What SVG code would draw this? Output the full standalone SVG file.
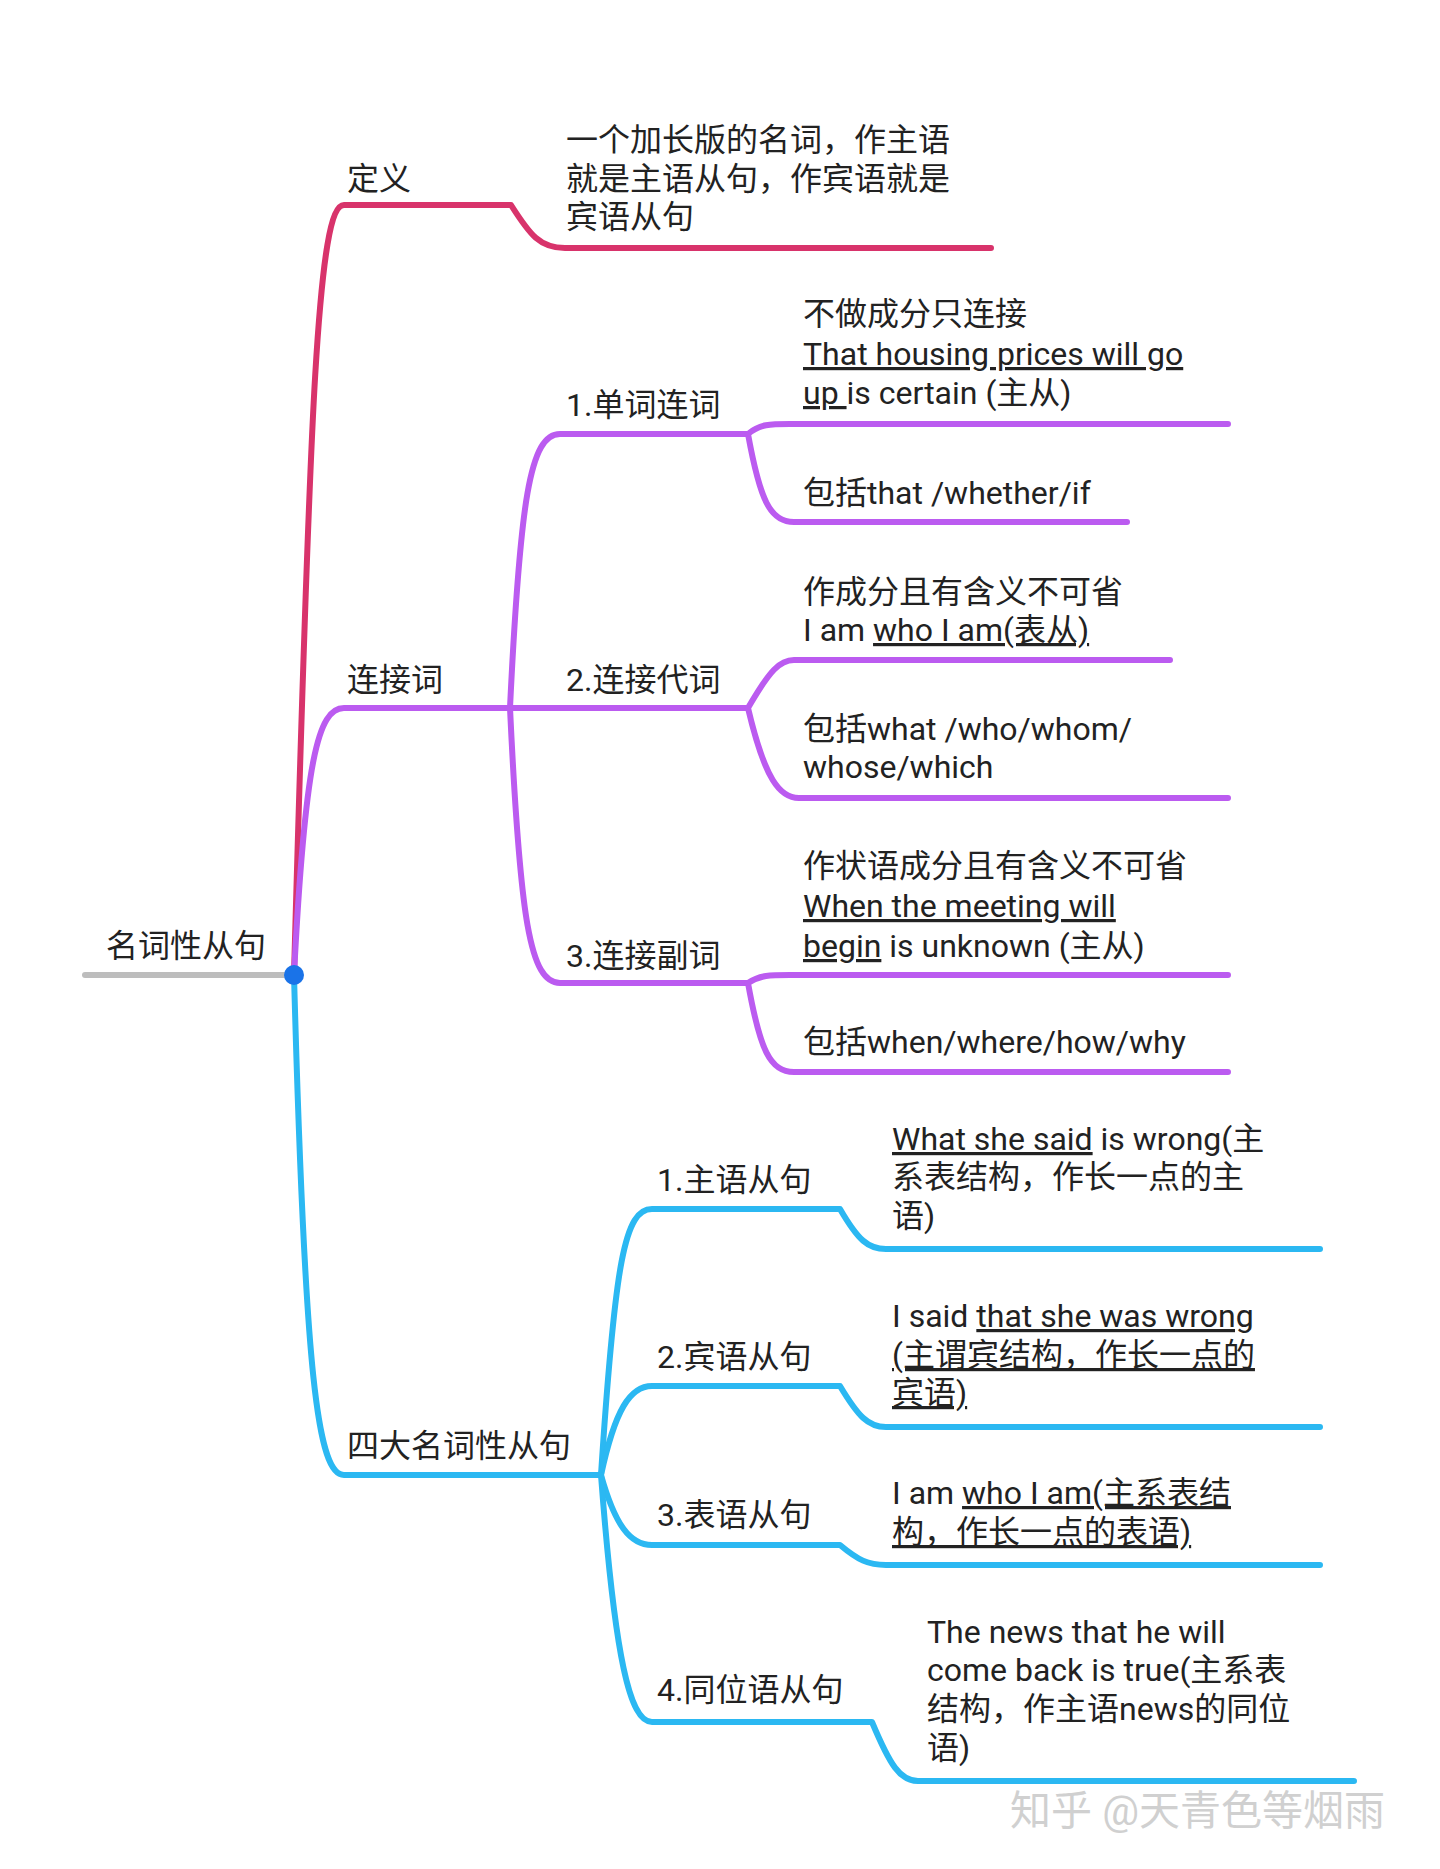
<svg xmlns="http://www.w3.org/2000/svg" width="1440" height="1869" viewBox="0 0 1440 1869">
<style>
text{font-family:Roboto,"Noto Sans CJK SC",sans-serif;font-size:32px;fill:#222}
.u{text-decoration:underline}
path{fill:none;stroke-width:6;stroke-linecap:round;stroke-linejoin:round}
.r{stroke:#d8336b}.p{stroke:#bb5bf0}.b{stroke:#2bb8f2}
</style>
<rect width="1440" height="1869" fill="#fff"/>
<g id="connectors">
<path d="M85,975 H294" stroke="#bdbdbd"/>
<path class="r" d="M294,975 C310,400 318,205 344,205 H511 C530,235 540,248 565,248 H991"/>
<path class="p" d="M294,975 C305,760 318,708 344,708 H748"/>
<path class="p" d="M510,708 C520,500 530,434 560,434 H748 M510,708 C520,920 530,983 560,983 H748"/>
<path class="p" d="M748,434 C760,424 770,424 790,424 H1228 M748,434 C760,500 770,522 794,522 H1127"/>
<path class="p" d="M748,708 C770,670 780,660 794,660 H1170 M748,708 C765,780 780,798 799,798 H1228"/>
<path class="p" d="M748,983 C760,975 770,975 790,975 H1228 M748,983 C760,1050 770,1072 794,1072 H1228"/>
<path class="b" d="M294,975 C305,1380 318,1475 344,1475 H601"/>
<path class="b" d="M601,1475 C615,1260 625,1209 652,1209 H840 C858,1240 868,1249 886,1249 H1320"/>
<path class="b" d="M601,1475 C615,1410 630,1386 652,1386 H840 C858,1416 868,1427 886,1427 H1320"/>
<path class="b" d="M601,1475 C615,1525 630,1545 652,1545 H840 C858,1560 868,1565 886,1565 H1320"/>
<path class="b" d="M601,1475 C615,1660 630,1722 652,1722 H872 C890,1765 900,1781 918,1781 H1354"/>
<circle cx="294" cy="975" r="10" fill="#1a73e8"/>
</g>
<g id="root"><text x="106" y="957">名词性从句</text></g>
<g id="n-def"><text x="347" y="190">定义</text>
<text x="566" y="151">一个加长版的名词，作主语</text><text x="566" y="190">就是主语从句，作宾语就是</text><text x="566" y="228">宾语从句</text></g>
<g id="n-conj"><text x="347" y="691">连接词</text></g>
<g id="n-c1"><text x="566" y="416">1.单词连词</text>
<text x="803" y="325">不做成分只连接</text>
<text x="803" y="365"><tspan class="u">That housing prices will go</tspan></text>
<text x="803" y="404"><tspan class="u">up </tspan>is certain (主从)</text>
<text x="803" y="504">包括that /whether/if</text></g>
<g id="n-c2"><text x="566" y="691">2.连接代词</text>
<text x="803" y="603">作成分且有含义不可省</text>
<text x="803" y="641">I am <tspan class="u">who I am(表从)</tspan></text>
<text x="803" y="740">包括what /who/whom/</text><text x="803" y="778">whose/which</text></g>
<g id="n-c3"><text x="566" y="967">3.连接副词</text>
<text x="803" y="877">作状语成分且有含义不可省</text>
<text x="803" y="917"><tspan class="u">When the meeting will</tspan></text>
<text x="803" y="957"><tspan class="u">begin</tspan> is unknown (主从)</text>
<text x="803" y="1053">包括when/where/how/why</text></g>
<g id="n-four"><text x="347" y="1457">四大名词性从句</text></g>
<g id="n-f1"><text x="657" y="1191">1.主语从句</text>
<text x="892" y="1150"><tspan class="u">What she said</tspan> is wrong(主</text>
<text x="892" y="1188">系表结构，作长一点的主</text><text x="892" y="1227">语)</text></g>
<g id="n-f2"><text x="657" y="1368">2.宾语从句</text>
<text x="892" y="1327">I said <tspan class="u">that she was wrong</tspan></text>
<text x="892" y="1366" class="u">(主谓宾结构，作长一点的</text><text x="892" y="1404" class="u">宾语)</text></g>
<g id="n-f3"><text x="657" y="1526">3.表语从句</text>
<text x="892" y="1504">I am <tspan class="u">who I am(主系表结</tspan></text>
<text x="892" y="1543" class="u">构，作长一点的表语)</text></g>
<g id="n-f4"><text x="657" y="1701">4.同位语从句</text>
<text x="927" y="1643">The news that he will</text><text x="927" y="1681">come back is true(主系表</text>
<text x="927" y="1720">结构，作主语news的同位</text><text x="927" y="1759">语)</text></g>
<text x="1010" y="1825" style="font-size:41px;fill:#d0d0d0">知乎 @天青色等烟雨</text>
</svg>
